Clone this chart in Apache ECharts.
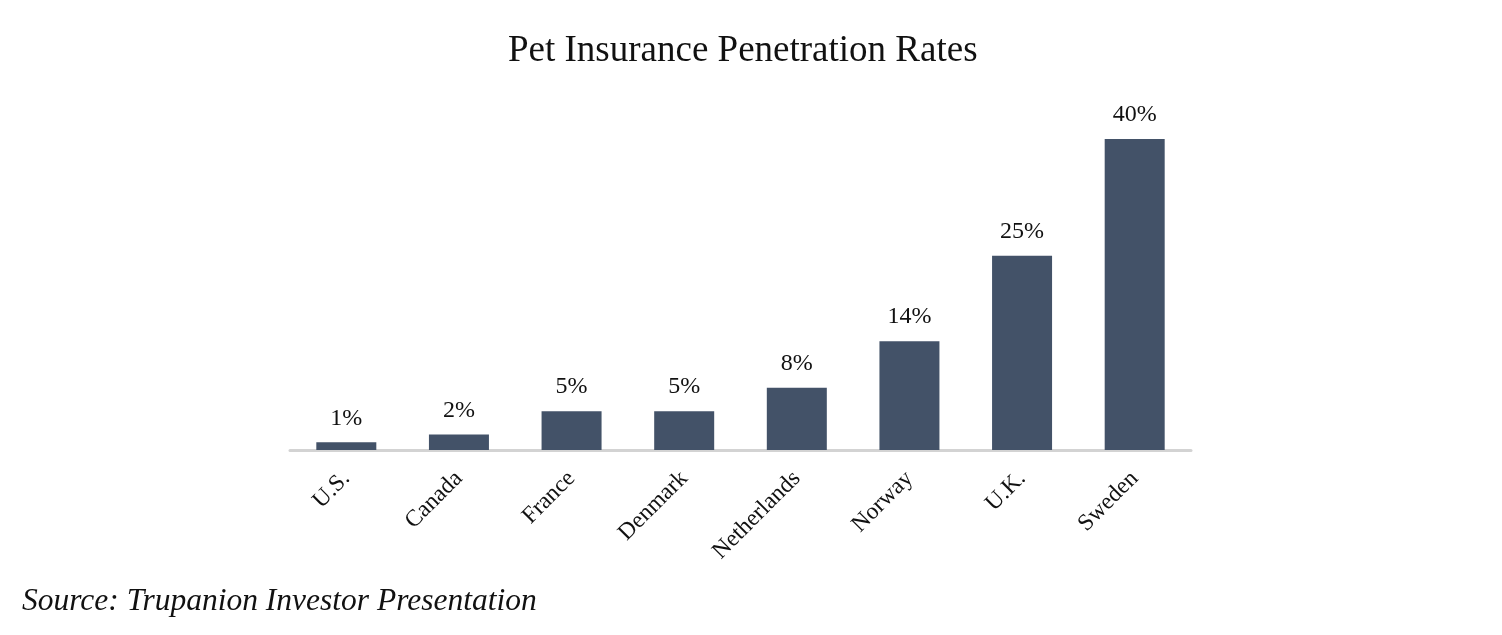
<!DOCTYPE html>
<html>
<head>
<meta charset="utf-8">
<script src="https://cdn.jsdelivr.net/npm/echarts@6/dist/echarts.min.js"></script>
<style>
html,body{margin:0;padding:0;background:#fff;}
#c{width:1502px;height:635px;}
</style>
</head>
<body>
<div id="c"></div>
<script>
const categories = ["U.S.", "Canada", "France", "Denmark", "Netherlands", "Norway", "U.K.", "Sweden"];
const penetration = [1, 2, 5, 5, 8, 14, 25, 40];
const titleText = "Pet Insurance Penetration Rates";
const sourceText = "Source: Trupanion Investor Presentation";

const chart = echarts.init(document.getElementById('c'));
chart.setOption({
  backgroundColor: '#ffffff',
  animation: false,
  title: {
    text: titleText,
    left: 503,
    top: 28,
    textStyle: { fontFamily: 'Liberation Serif', fontWeight: 'normal', fontSize: 37, color: '#111' }
  },
  graphic: [{
    type: 'text',
    left: 22,
    top: 586,
    style: { text: sourceText, font: 'italic 31.5px "Liberation Serif"', fill: '#111' }
  }],
  grid: { left: 290, right: 311, top: 139, bottom: 185, containLabel: false },
  xAxis: {
    type: 'category',
    data: categories,
    axisLine: { lineStyle: { color: '#d3d3d3', width: 3 } },
    axisTick: { show: false },
    axisLabel: { rotate: 45, fontFamily: 'Liberation Serif', fontSize: 23.5, color: '#111', margin: 25, interval: 0 }
  },
  yAxis: {
    type: 'value',
    min: 0,
    max: 40,
    show: false,
    splitLine: { show: false }
  },
  series: [{
    type: 'bar',
    data: penetration,
    barWidth: 60,
    itemStyle: { color: '#435268' },
    label: {
      show: true,
      position: 'top',
      distance: 12,
      formatter: p => p.value + '%',
      fontFamily: 'Liberation Serif',
      fontSize: 24,
      color: '#111'
    }
  }]
});
</script>
</body>
</html>
